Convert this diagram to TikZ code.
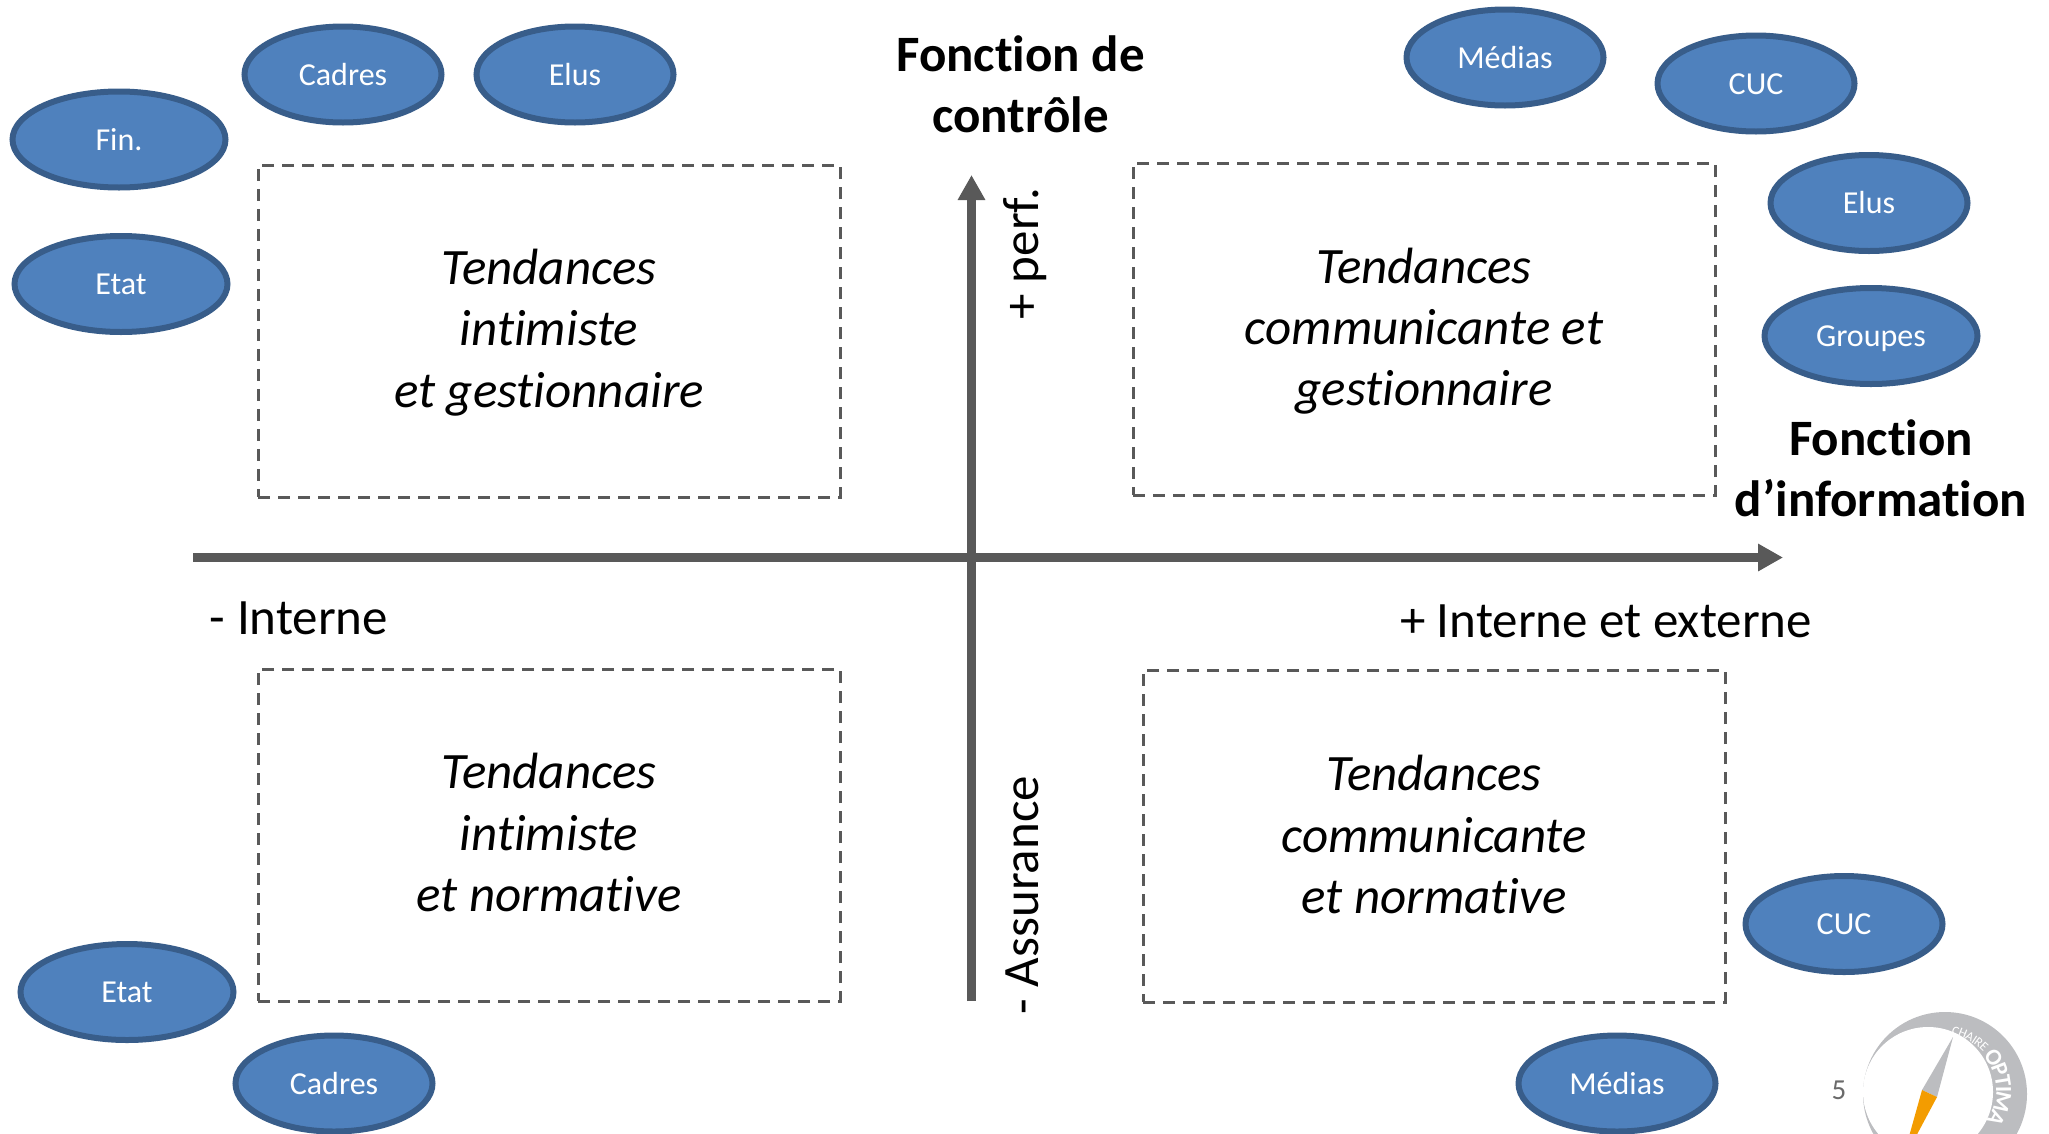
\documentclass[tikz,border=0pt]{standalone}
\usepackage{fontspec}
\setmainfont[Ligatures=NoCommon]{Carlito}
\usetikzlibrary{shapes.geometric,arrows.meta,decorations.text}
\definecolor{axe}{HTML}{595959}
\definecolor{bleu}{HTML}{4F81BD}
\definecolor{bleufonce}{HTML}{385D8A}
\definecolor{logogris}{HTML}{BCBDC0}
\definecolor{logoorange}{HTML}{F39C00}
\tikzset{
  acteur/.style={ellipse,draw=bleufonce,fill=bleu,line width=6pt,inner sep=0pt,minimum width=197pt,minimum height=96pt,text height=27pt,text depth=6pt,text=white,font=\fontsize{32}{38}\selectfont},
  acteurlarge/.style={acteur,minimum width=213pt},
  zone/.style={draw=axe,line width=3pt,dash pattern=on 12pt off 8pt,minimum width=582pt,minimum height=332pt},
  zonetexte/.style={align=center,font=\fontsize{51}{61.3}\selectfont\itshape},
  axefleche/.style={draw=axe,line width=9pt,-{Triangle[length=25pt,width=26pt]}},
  titre/.style={align=center,font=\fontsize{51}{61}\selectfont\bfseries},
  legende/.style={font=\fontsize{51}{61}\selectfont}
}
\begin{document}
\begin{tikzpicture}[x=1pt,y=-1pt]
      \useasboundingbox (0,0) rectangle (2049,1133);
      \clip (0,0) rectangle (2049,1133);
      % quadrants
      \node[zone] (intgest) at (549,331) {};
      \node[zone] (comgest) at (1424,329) {};
      \node[zone] (intnorm) at (549,835) {};
      \node[zone] (comnorm) at (1434,836) {};
      \node[zonetexte] (tintgest) at ([yshift=-1.5pt]intgest) {Tendances\\intimiste\\et gestionnaire};
      \node[zonetexte] (tcomgest) at ([yshift=-2pt]comgest) {Tendances\\communicante et\\gestionnaire};
      \node[zonetexte] (tintnorm) at ([yshift=2.5pt]intnorm) {Tendances\\intimiste\\et normative};
      \node[zonetexte] (tcomnorm) at ([yshift=1.5pt]comnorm) {Tendances\\communicante\\et normative};
      % axes
      \coordinate (gauche) at (193,557.5);
      \coordinate (droite) at (1783,557.5);
      \coordinate (bas) at (971.5,1001);
      \coordinate (haut) at (971.5,175);
      \draw[axefleche] (bas) -- (haut);
      \draw[axefleche] (gauche) -- (droite);
      % titres
      \node[titre] (controle) at (1020.5,84) {Fonction de\\contrôle};
      \node[titre] (information) at (1881,468) {Fonction\\d’information};
      \node[legende,rotate=90] (perf) at (1025,254) {+ perf.};
      \node[legende,rotate=90] (assurance) at (1022,895) {- Assurance};
      \node[legende] (interne) at (299,618) {- Interne};
      \node[legende] (externe) at (1606,621) {+ Interne et externe};
      % acteurs
      \node[acteurlarge] (fin) at (119,139.5) {Fin.};
      \node[acteurlarge] (etat) at (121,284) {Etat};
      \node[acteur] (cadres) at (343,74.5) {Cadres};
      \node[acteur] (elus) at (575,74.5) {Elus};
      \node[acteur] (medias) at (1505,57.5) {Médias};
      \node[acteur] (cuc) at (1756,83.5) {CUC};
      \node[acteur] (elusb) at (1869,203) {Elus};
      \node[acteurlarge] (groupes) at (1871,336) {Groupes};
      \node[acteurlarge] (etatb) at (127,992) {Etat};
      \node[acteur] (cadresb) at (334,1083.5) {Cadres};
      \node[acteur] (cucb) at (1844,924) {CUC};
      \node[acteur] (mediasb) at (1617,1083.5) {Médias};
      % numero et logo
      \node[text=axe!90,font=\fontsize{29}{35}\selectfont] (numero) at (1839,1090) {5};
      \fill[logogris] (1945,1094) circle (82);
      \fill[white] (1928,1092) circle (65);
      \fill[logogris] (1953,1037) -- (1922,1090) -- (1937,1097) -- cycle;
      \fill[logoorange] (1922,1090) -- (1937,1097) -- (1914,1140) -- (1908,1140) -- cycle;
      \path[decorate,decoration={text along path,text align=center,raise=-4pt,text={|\fontsize{13}{13}\selectfont\color{white}|CHAIRE}}] (1950,1030) arc (-80:-42:66);
      \path[decorate,decoration={text along path,text align=center,raise=-9pt,text={|\fontsize{23}{23}\selectfont\bfseries\color{white}|OPTIMA}}] (1994,1056) arc (-36:30:58);
    \end{tikzpicture}
\end{document}
